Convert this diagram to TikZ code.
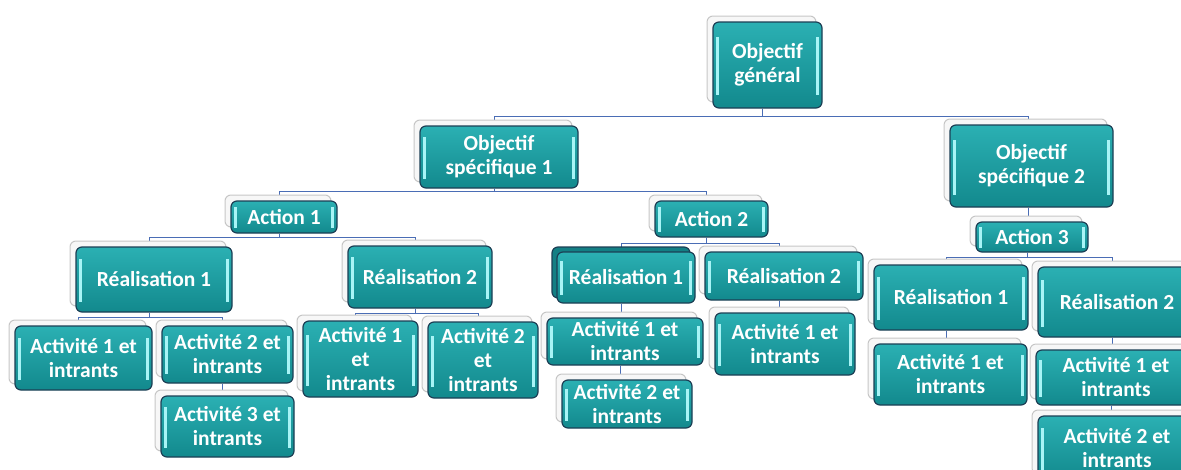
\documentclass[tikz,border=0pt]{standalone}
\usepackage{fontspec}
\setmainfont{Carlito}
\usetikzlibrary{shadows,backgrounds,calc}
\definecolor{tealtop}{HTML}{2BB0B3}
\definecolor{tealbot}{HTML}{12898D}
\definecolor{tealdeep}{HTML}{137F84}
\definecolor{tealedge}{HTML}{1C3F55}
\definecolor{hilite}{HTML}{A8F4F6}
\definecolor{linkblue}{HTML}{4A6DB5}

\begin{document}
\begin{tikzpicture}[x=1pt, y=-1pt, font=\fontsize{21.5}{24}\selectfont\bfseries,
  tealbox/.style={draw=tealedge, line width=1.2pt, rounded corners=6pt, top color=tealtop, bottom color=tealbot,
    text=white, align=center, inner sep=2pt,
    path picture={
      \fill[hilite, sharp corners] ([xshift=3pt]$(path picture bounding box.north west)!.18!(path picture bounding box.south west)$)
        rectangle ([xshift=6pt]$(path picture bounding box.north west)!.85!(path picture bounding box.south west)$);
      \fill[hilite, sharp corners] ([xshift=-3pt]$(path picture bounding box.north east)!.18!(path picture bounding box.south east)$)
        rectangle ([xshift=-6pt]$(path picture bounding box.north east)!.85!(path picture bounding box.south east)$);}},
  box/.style={tealbox, general shadow={shadow xshift=-6pt, shadow yshift=6pt, fill=gray!6, draw=gray!45, line width=1pt}},
  twinbox/.style={tealbox, general shadow={shadow xshift=-5pt, shadow yshift=5pt, fill=tealdeep, draw=tealedge, line width=1.2pt}},
  link/.style={draw=linkblue, line width=1pt}]
\useasboundingbox (0,0) rectangle (1181,469);
\clip (0,0) rectangle (1181,469);
% top levels
\node[box, minimum width=109pt, minimum height=86pt] (gen) at (767.5,65) {Objectif\\général};
\node[box, minimum width=158pt, minimum height=62pt] (os1) at (499,157) {Objectif\\spécifique 1};
\node[box, minimum width=163pt, minimum height=82pt] (os2) at (1031.5,166) {Objectif\\spécifique 2};
\node[box, minimum width=106pt, minimum height=32pt] (a1) at (284,217) {Action 1};
\node[box, minimum width=113pt, minimum height=36pt] (a2) at (711.5,219) {Action 2};
\node[box, minimum width=112pt, minimum height=30pt] (a3) at (1032,237) {Action 3};
% realisations
\node[box, minimum width=156pt, minimum height=65pt] (r11) at (154,279.5) {Réalisation 1};
\node[box, minimum width=144pt, minimum height=62pt] (r12) at (420,277) {Réalisation 2};
\node[twinbox, minimum width=138pt, minimum height=51pt] (r21) at (626,277.5) {Réalisation 1};
\node[box, minimum width=158pt, minimum height=48pt] (r22) at (784,276) {Réalisation 2};
\node[box, minimum width=154pt, minimum height=65pt] (r31) at (951,297.5) {Réalisation 1};
\node[box, minimum width=158pt, minimum height=70pt] (r32) at (1117,302) {Réalisation 2};
% activites
\node[box, minimum width=137pt, minimum height=64pt] (t111) at (83.5,358) {Activité 1 et\\intrants};
\node[box, minimum width=131pt, minimum height=57pt] (t112) at (227.5,354.5) {Activité 2 et\\intrants};
\node[box, minimum width=133pt, minimum height=61pt] (t113) at (227.5,426.5) {Activité 3 et\\intrants};
\node[box, minimum width=115pt, minimum height=76pt] (t121) at (360.5,359) {Activité 1\\et\\intrants};
\node[box, minimum width=110pt, minimum height=76pt] (t122) at (483,360) {Activité 2\\et\\intrants};
\node[box, minimum width=156pt, minimum height=47pt] (t211) at (625,341.5) {Activité 1 et\\intrants};
\node[box, minimum width=130pt, minimum height=48pt] (t212) at (627,404) {Activité 2 et\\intrants};
\node[box, minimum width=140pt, minimum height=62pt] (t221) at (785,344) {Activité 1 et\\intrants};
\node[box, minimum width=153pt, minimum height=61pt] (t311) at (950.5,374.5) {Activité 1 et\\intrants};
\node[box, minimum width=160pt, minimum height=55pt] (t321) at (1116,377.5) {Activité 1 et\\intrants};
\node[box, minimum width=158pt, minimum height=64pt] (t322) at (1117,448) {Activité 2 et\\intrants};
% connectors
\begin{scope}[on background layer]
\draw[link] ([xshift=-5pt]gen.south) -- ++(0,8) -| ([xshift=-5pt]os1.north);
\draw[link] ([xshift=-5pt]gen.south) -- ++(0,8) -| ([xshift=-3.5pt]os2.north);
\draw[link] ([xshift=-5pt]os1.south) -- ++(0,3) -| ([xshift=-5pt]a1.north);
\draw[link] ([xshift=-5pt]os1.south) -- ++(0,3) -| ([xshift=-5pt]a2.north);
\draw[link] ([xshift=-3.5pt]os2.south) -- ([xshift=-3.5pt]os2.south |- a3.north);
\draw[link] ([xshift=-5pt]a1.south) -- ++(0,4) -| ([xshift=-5pt]r11.north);
\draw[link] ([xshift=-5pt]a1.south) -- ++(0,4) -| ([xshift=-5pt]r12.north);
\draw[link] ([xshift=-5pt]a2.south) -- ++(0,6) -| ([xshift=-5pt]r21.north);
\draw[link] ([xshift=-5pt]a2.south) -- ++(0,6) -| ([xshift=-5pt]r22.north);
\draw[link] ([xshift=-5pt]a3.south) -- ++(0,5) -| ([xshift=-5pt]r31.north);
\draw[link] ([xshift=-5pt]a3.south) -- ++(0,5) -| ([xshift=-5pt]r32.north);
\draw[link] ([xshift=-5pt]r11.south) -- ++(0,5) -| ([xshift=-5pt]t111.north);
\draw[link] ([xshift=-5pt]r11.south) -- ++(0,5) -| ([xshift=-5pt]t112.north);
\draw[link] ([xshift=-5pt]t112.south) -- ([xshift=-5pt]t112.south |- t113.north);
\draw[link] ([xshift=-5pt]r12.south) -- ++(0,5) -| ([xshift=-5pt]t121.north);
\draw[link] ([xshift=-5pt]r12.south) -- ++(0,5) -| ([xshift=-5pt]t122.north);
\draw[link] ([xshift=-5pt]r21.south) -- ([xshift=-5pt]r21.south |- t211.north);
\draw[link] ([xshift=-5pt]t211.south) -- ([xshift=-5pt]t211.south |- t212.north);
\draw[link] ([xshift=-5pt]r22.south) -- ([xshift=-5pt]r22.south |- t221.north);
\draw[link] ([xshift=-5pt]r31.south) -- ([xshift=-5pt]r31.south |- t311.north);
\draw[link] ([xshift=-5pt]r32.south) -- ([xshift=-5pt]r32.south |- t321.north);
\draw[link] ([xshift=-5pt]t321.south) -- ([xshift=-5pt]t321.south |- t322.north);
\end{scope}
\end{tikzpicture}
\end{document}
